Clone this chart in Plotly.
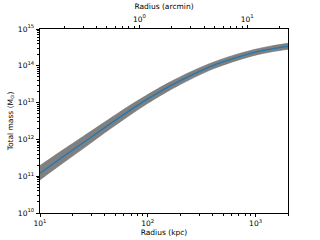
import numpy as np
import plotly.graph_objects as go

# data (log10 radius in kpc, log10 mass in Msun)
log_radius_kpc = [1.0, 1.2, 1.4, 1.6, 1.8, 2.0, 2.2, 2.4, 2.6, 2.8, 3.0, 3.15, 3.301]
log_mass = [11.08, 11.50, 11.91, 12.32, 12.72, 13.10, 13.44, 13.74, 14.00, 14.20, 14.37, 14.46, 14.53]
log_mass_hi = [11.29, 11.69, 12.08, 12.47, 12.86, 13.22, 13.55, 13.84, 14.09, 14.29, 14.45, 14.54, 14.61]
log_mass_lo = [10.90, 11.33, 11.75, 12.18, 12.59, 12.98, 13.33, 13.64, 13.91, 14.12, 14.29, 14.38, 14.45]
kpc_per_arcmin = 83.6

radius = [10 ** v for v in log_radius_kpc]
mass = [10 ** v for v in log_mass]
mass_hi = [10 ** v for v in log_mass_hi]
mass_lo = [10 ** v for v in log_mass_lo]

x_ticks = [10, 100, 1000]
x_ticktext = ["10<sup>1</sup>", "10<sup>2</sup>", "10<sup>3</sup>"]
y_ticks = [1e10, 1e11, 1e12, 1e13, 1e14, 1e15]
y_ticktext = ["10<sup>%d</sup>" % e for e in range(10, 16)]
top_ticks = [1, 10]
top_ticktext = ["10<sup>0</sup>", "10<sup>1</sup>"]

def minors(lo_exp, hi_exp, lo, hi):
    vals = []
    for e in range(lo_exp, hi_exp + 1):
        for m in range(2, 10):
            v = m * 10 ** e
            if lo <= v <= hi:
                vals.append(v)
    return vals

xmin, xmax = 10, 2000
amin, amax = xmin / kpc_per_arcmin, xmax / kpc_per_arcmin

fig = go.Figure()
fig.add_trace(go.Scatter(x=radius, y=mass_hi, mode="lines",
                         line=dict(color="#6e6e6e", width=0.6, shape="spline", smoothing=0.8),
                         showlegend=False, hoverinfo="skip"))
fig.add_trace(go.Scatter(x=radius, y=mass_lo, mode="lines", fill="tonexty",
                         fillcolor="#808080",
                         line=dict(color="#6e6e6e", width=0.6, shape="spline", smoothing=0.8),
                         showlegend=False, hoverinfo="skip"))
fig.add_trace(go.Scatter(x=radius, y=mass, mode="lines",
                         line=dict(color="#1f77b4", width=1.3, shape="spline", smoothing=0.8),
                         showlegend=False))
fig.add_trace(go.Scatter(x=[amin, amax], y=[1e10, 1e10], xaxis="x2", mode="lines",
                         line=dict(width=0), showlegend=False, hoverinfo="skip"))

font = dict(family="DejaVu Sans", size=7.5, color="black")
tickfont = dict(family="DejaVu Sans", size=7.5, color="black")
fig.update_layout(
    width=320, height=240,
    margin=dict(l=40, r=32, t=29, b=27),
    paper_bgcolor="white", plot_bgcolor="white",
    font=font,
    xaxis=dict(type="log", range=[np.log10(xmin), np.log10(xmax)], automargin=False,
               tickmode="array", tickvals=x_ticks, ticktext=x_ticktext, tickfont=tickfont,
               ticks="outside", ticklen=3.5, tickwidth=0.8, tickcolor="black",
               minor=dict(tickmode="array", tickvals=minors(1, 3, xmin, xmax),
                          ticks="outside", ticklen=2, tickwidth=0.6, tickcolor="black"),
               showline=True, linecolor="black", linewidth=0.8, mirror=False,
               showgrid=False, zeroline=False,
               title=dict(text="Radius (kpc)", font=font, standoff=1)),
    xaxis2=dict(type="log", range=[np.log10(amin), np.log10(amax)], automargin=False,
                overlaying="x", side="top",
                tickmode="array", tickvals=top_ticks, ticktext=top_ticktext, tickfont=tickfont,
                ticks="outside", ticklen=3.5, tickwidth=0.8, tickcolor="black",
                minor=dict(tickmode="array", tickvals=minors(-1, 1, amin, amax),
                           ticks="outside", ticklen=2, tickwidth=0.6, tickcolor="black"),
                showline=True, linecolor="black", linewidth=0.8,
                showgrid=False, zeroline=False,
                title=dict(text="Radius (arcmin)", font=font, standoff=2)),
    yaxis=dict(type="log", range=[10, 15], automargin=False,
               tickmode="array", tickvals=y_ticks, ticktext=y_ticktext, tickfont=tickfont,
               ticks="outside", ticklen=3.5, tickwidth=0.8, tickcolor="black",
               minor=dict(tickmode="array", tickvals=minors(10, 14, 1e10, 1e15),
                          ticks="outside", ticklen=2, tickwidth=0.6, tickcolor="black"),
               showline=True, linecolor="black", linewidth=0.8, mirror=True,
               showgrid=False, zeroline=False,
               title=dict(text="Total mass (M<sub>⊙</sub>)", font=font, standoff=3)),
)

fig.write_html("out.html", config={"displayModeBar": False},
               post_script="document.body.style.margin='0';document.body.style.padding='0';")
